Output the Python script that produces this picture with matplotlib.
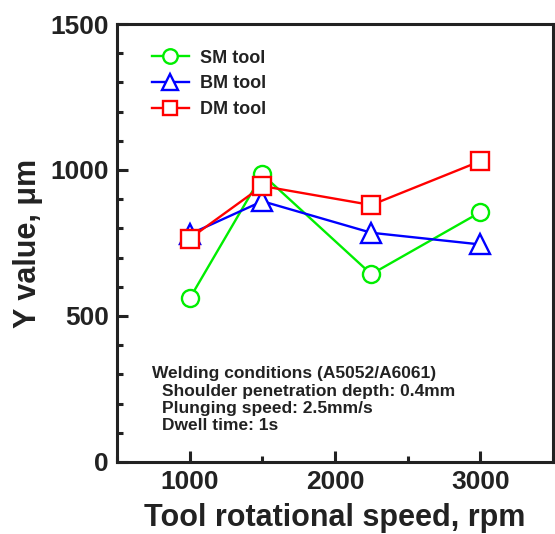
import matplotlib
matplotlib.use("Agg")
import matplotlib.pyplot as plt
from matplotlib.ticker import MultipleLocator

plt.rcParams['font.family'] = ['Liberation Sans', 'DejaVu Sans']
plt.rcParams['font.weight'] = 'bold'

speed = [1000, 1500, 2250, 3000]
sm_tool = [560, 985, 643, 855]
bm_tool = [780, 893, 785, 745]
dm_tool = [765, 945, 880, 1030]

series_labels = ["SM tool", "BM tool", "DM tool"]
x_label = "Tool rotational speed, rpm"
y_label = "Y value, \u03bcm"
note_title = "Welding conditions (A5052/A6061)"
note_lines = ["Shoulder penetration depth: 0.4mm",
              "Plunging speed: 2.5mm/s",
              "Dwell time: 1s"]

fig = plt.figure(figsize=(5.55, 5.34), dpi=100)
ax = fig.add_axes([0.211, 0.135, 0.785, 0.820])

ms = 12.3
lw = 1.7
mew = 1.7
ax.plot(speed, sm_tool, color='#00ee00', marker='o', ms=ms, mfc='white', mew=mew, lw=lw,
        label=series_labels[0], zorder=3)
ax.plot(speed, bm_tool, color='#0000ff', marker='^', ms=ms + 1.5, mfc='white', mew=mew, lw=lw,
        label=series_labels[1], zorder=4)
ax.plot(speed, dm_tool, color='#ff0000', marker='s', ms=ms, mfc='white', mew=mew, lw=lw,
        label=series_labels[2], zorder=5)

ax.set_xlim(500, 3500)
ax.set_ylim(0, 1500)
ax.xaxis.set_major_locator(MultipleLocator(1000))
ax.xaxis.set_minor_locator(MultipleLocator(500))
ax.yaxis.set_major_locator(MultipleLocator(500))
ax.yaxis.set_minor_locator(MultipleLocator(100))
ax.tick_params(which='both', direction='in', width=2.2, color='#222222', top=False, right=False)
ax.tick_params(which='major', length=8, labelsize=19, pad=6)
ax.tick_params(which='minor', length=4.3)
for lab in ax.get_xticklabels() + ax.get_yticklabels():
    lab.set_fontweight('bold')
    lab.set_color('#222222')
for s in ax.spines.values():
    s.set_linewidth(2.2)
    s.set_color('#222222')

ax.set_xlabel(x_label, fontsize=22, fontweight='bold', color='#222222', labelpad=6)
ax.set_ylabel(y_label, fontsize=22, fontweight='bold', color='#222222', labelpad=5)

leg = ax.legend(loc='upper left', bbox_to_anchor=(0.05, 0.97), frameon=False,
                fontsize=13, handlelength=2.1, handletextpad=0.6, labelspacing=0.48,
                borderaxespad=0.3, markerscale=0.85)
for t in leg.get_texts():
    t.set_color('#222222')

ax.text(0.080, 0.192, note_title, transform=ax.transAxes, fontsize=12.5,
        fontweight='bold', color='#222222')
ys = [0.151, 0.112, 0.073]
for yy, line in zip(ys, note_lines):
    ax.text(0.103, yy, line, transform=ax.transAxes, fontsize=12.5,
            fontweight='bold', color='#222222')

fig.savefig("out.png", dpi=100)
